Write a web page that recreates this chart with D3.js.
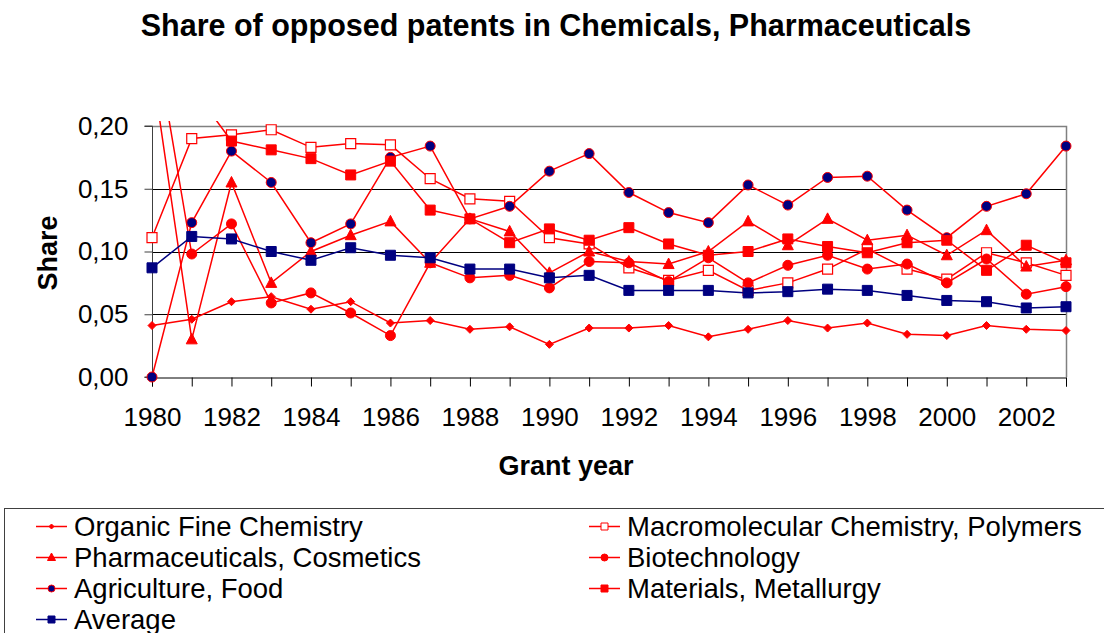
<!DOCTYPE html>
<html>
<head>
<meta charset="utf-8">
<script src="https://cdn.jsdelivr.net/npm/d3@7"></script>
<style>
  body { margin: 0; background: #ffffff; }
  text { font-family: "Liberation Sans", Arial, sans-serif; }
</style>
</head>
<body>
<div id="chart"></div>
<script>
////////////////////////////////////////////////////////////////////////////////
// Data
////////////////////////////////////////////////////////////////////////////////
var years = d3.range(1980, 2004);
var yTicks = [0, 0.05, 0.10, 0.15, 0.20];

var organic   = [0.041, 0.046, 0.060, 0.064, 0.054, 0.060, 0.043, 0.045, 0.038, 0.040, 0.026, 0.039,
                 0.039, 0.041, 0.032, 0.038, 0.045, 0.039, 0.043, 0.034, 0.033, 0.041, 0.038, 0.037];
var macro     = [0.111, 0.190, 0.193, 0.197, 0.183, 0.186, 0.185, 0.158, 0.142, 0.140, 0.111, 0.106,
                 0.087, 0.077, 0.085, 0.069, 0.075, 0.086, 0.102, 0.086, 0.078, 0.099, 0.091, 0.081];
var pharma    = [0.247, 0.030, 0.155, 0.075, 0.100, 0.113, 0.124, 0.091, 0.126, 0.116, 0.083, 0.100,
                 0.092, 0.090, 0.100, 0.124, 0.105, 0.126, 0.109, 0.113, 0.097, 0.117, 0.088, 0.093];
var biotech   = [0.285, 0.098, 0.122, 0.059, 0.067, 0.051, 0.033, 0.091, 0.079, 0.081, 0.071, 0.092,
                 0.091, 0.076, 0.095, 0.075, 0.089, 0.097, 0.086, 0.090, 0.075, 0.094, 0.066, 0.072];
var agri      = [0.000, 0.123, 0.180, 0.155, 0.107, 0.122, 0.175, 0.184, 0.126, 0.136, 0.164, 0.178,
                 0.147, 0.131, 0.123, 0.153, 0.137, 0.159, 0.160, 0.133, 0.111, 0.136, 0.146, 0.184];
var materials = [0.260, 0.231, 0.188, 0.181, 0.174, 0.161, 0.172, 0.133, 0.126, 0.107, 0.118, 0.109,
                 0.119, 0.106, 0.097, 0.100, 0.110, 0.104, 0.099, 0.107, 0.109, 0.085, 0.105, 0.091];
var average   = [0.087, 0.112, 0.110, 0.100, 0.093, 0.103, 0.097, 0.095, 0.086, 0.086, 0.079, 0.081,
                 0.069, 0.069, 0.069, 0.067, 0.068, 0.070, 0.069, 0.065, 0.061, 0.060, 0.055, 0.056];

// drawing order = legend order (row by row)
var series = [
  {name: "Organic Fine Chemistry",            values: organic,   line: "#ff0000", marker: "diamond",  fill: "#ff0000", stroke: "#ff0000"},
  {name: "Macromolecular Chemistry, Polymers", values: macro,     line: "#ff0000", marker: "square",   fill: "#ffffff", stroke: "#ff0000"},
  {name: "Pharmaceuticals, Cosmetics",        values: pharma,    line: "#ff0000", marker: "triangle", fill: "#ff0000", stroke: "#ff0000"},
  {name: "Biotechnology",                     values: biotech,   line: "#ff0000", marker: "circle",   fill: "#ff0000", stroke: "#ff0000"},
  {name: "Agriculture, Food",                 values: agri,      line: "#ff0000", marker: "circle",   fill: "#000080", stroke: "#ff0000"},
  {name: "Materials, Metallurgy",             values: materials, line: "#ff0000", marker: "square",   fill: "#ff0000", stroke: "#ff0000"},
  {name: "Average",                           values: average,   line: "#000080", marker: "square",   fill: "#000080", stroke: "#000080"}
];

////////////////////////////////////////////////////////////////////////////////
// Setup
////////////////////////////////////////////////////////////////////////////////
var W = 1104, H = 633;
var plot = {left: 152, right: 1066, top: 126, bottom: 377};

var svg = d3.select("#chart").append("svg")
    .attr("width", W)
    .attr("height", H);

var x = d3.scaleLinear().domain([1980, 2003]).range([plot.left, plot.right]);
var y = d3.scaleLinear().domain([0, 0.20]).range([plot.bottom, plot.top]);

var fmt = function(d) { return d3.format(".2f")(d).replace(".", ","); };

// marker shapes
function markerPath(type, s) {
  var h = s / 2;
  if (type == "diamond")  return "M0," + (-h) + "L" + h + ",0L0," + h + "L" + (-h) + ",0Z";
  if (type == "triangle") return "M0," + (-h - 1) + "L" + (h + 0.5) + "," + (h - 0.5) + "L" + (-h - 0.5) + "," + (h - 0.5) + "Z";
  if (type == "square")   return "M" + (-h) + "," + (-h) + "h" + s + "v" + s + "h" + (-s) + "Z";
  return d3.symbol().type(d3.symbolCircle).size(Math.PI * h * h)();
}
var markerSize = {diamond: 8, triangle: 10, square: 10, circle: 10};

////////////////////////////////////////////////////////////////////////////////
// Title
////////////////////////////////////////////////////////////////////////////////
svg.append("text")
   .attr("x", 556).attr("y", 36)
   .attr("text-anchor", "middle")
   .attr("font-size", "30.5px")
   .attr("font-weight", "bold")
   .text("Share of opposed patents in Chemicals, Pharmaceuticals");

////////////////////////////////////////////////////////////////////////////////
// Grid, frame and axes
////////////////////////////////////////////////////////////////////////////////
svg.append("g").selectAll("line")
   .data([0.05, 0.10, 0.15])
   .enter().append("line")
   .attr("x1", plot.left).attr("x2", plot.right)
   .attr("y1", function(d) { return Math.round(y(d)) + 0.5; })
   .attr("y2", function(d) { return Math.round(y(d)) + 0.5; })
   .attr("stroke", "#000000")
   .attr("stroke-width", 1);

// top / right border of plot area
svg.append("path")
   .attr("d", "M" + plot.left + "," + (plot.top + 0.5) + "H" + (plot.right + 0.5) + "V" + plot.bottom)
   .attr("fill", "none")
   .attr("stroke", "#808080")
   .attr("stroke-width", 1.5);

var yAxis = svg.append("g")
   .attr("transform", "translate(" + (plot.left + 0.5) + ",0)")
   .call(d3.axisLeft(y).tickValues(yTicks).tickFormat(fmt).tickSize(8).tickPadding(16));

var xAxis = svg.append("g")
   .attr("transform", "translate(0," + (plot.bottom + 0.5) + ")")
   .call(d3.axisBottom(x).tickValues(years)
         .tickFormat(function(d) { return d % 2 == 0 ? d : ""; })
         .tickSize(9).tickPadding(21));

[yAxis, xAxis].forEach(function(a) {
  a.selectAll("text").attr("font-family", "Liberation Sans, Arial, sans-serif")
   .attr("font-size", "26px").attr("fill", "#000000");
  a.selectAll("line").attr("stroke", "#000000");
  a.select(".domain").attr("stroke", "#000000");
});
yAxis.selectAll("line").attr("stroke", "#404040");
yAxis.select(".domain").attr("stroke", "#404040").attr("d", "M-8," + plot.top + "H0V" + plot.bottom + "H-8");

// axis titles
svg.append("text")
   .attr("transform", "translate(57,253) rotate(-90)")
   .attr("text-anchor", "middle")
   .attr("font-size", "27px")
   .attr("font-weight", "bold")
   .text("Share");

svg.append("text")
   .attr("x", 566).attr("y", 475)
   .attr("text-anchor", "middle")
   .attr("font-size", "27px")
   .attr("font-weight", "bold")
   .text("Grant year");

////////////////////////////////////////////////////////////////////////////////
// Series (lines + markers), clipped a little above the plot top
////////////////////////////////////////////////////////////////////////////////
svg.append("clipPath").attr("id", "clip")
   .append("rect").attr("x", 0).attr("y", plot.top - 5).attr("width", W).attr("height", H);

var lineGen = d3.line()
   .x(function(d, i) { return x(years[i]); })
   .y(function(d) { return y(d); });

var layer = svg.append("g").attr("clip-path", "url(#clip)");

series.forEach(function(s) {
  var g = layer.append("g");
  g.append("path")
   .attr("d", lineGen(s.values))
   .attr("fill", "none")
   .attr("stroke", s.line)
   .attr("stroke-width", 1.5);
  g.selectAll("path.m")
   .data(s.values.map(function(v, i) { return {year: years[i], value: v}; })
         .filter(function(d) { return d.value <= 0.20; }))
   .enter().append("path")
   .attr("class", "m")
   .attr("transform", function(d) { return "translate(" + x(d.year) + "," + y(d.value) + ")"; })
   .attr("d", markerPath(s.marker, markerSize[s.marker]))
   .attr("fill", s.fill)
   .attr("stroke", s.stroke)
   .attr("stroke-width", s.marker == "square" && s.fill == "#ffffff" ? 1.2 : 1);
});

////////////////////////////////////////////////////////////////////////////////
// Legend
////////////////////////////////////////////////////////////////////////////////
svg.append("rect")
   .attr("x", 4.5).attr("y", 508.5)
   .attr("width", 1110).attr("height", 140)
   .attr("fill", "#ffffff")
   .attr("stroke", "#404040")
   .attr("stroke-width", 1);

var legend = svg.append("g").selectAll("g")
   .data(series)
   .enter().append("g")
   .attr("transform", function(d, i) {
      var col = i % 2, row = Math.floor(i / 2);
      return "translate(" + (col == 0 ? 36 : 589) + "," + (526.5 + row * 31) + ")";
   });

legend.append("line")
   .attr("x1", 0).attr("x2", 31)
   .attr("stroke", function(d) { return d.line; })
   .attr("stroke-width", 1.5);

legend.append("path")
   .attr("transform", "translate(15.5,0)")
   .attr("d", function(d) { return markerPath(d.marker, markerSize[d.marker] - 3); })
   .attr("fill", function(d) { return d.fill; })
   .attr("stroke", function(d) { return d.stroke; })
   .attr("stroke-width", 1);

legend.append("text")
   .attr("x", 38).attr("dy", "0.35em")
   .attr("font-size", "27.5px")
   .text(function(d) { return d.name; });
</script>
</body>
</html>
